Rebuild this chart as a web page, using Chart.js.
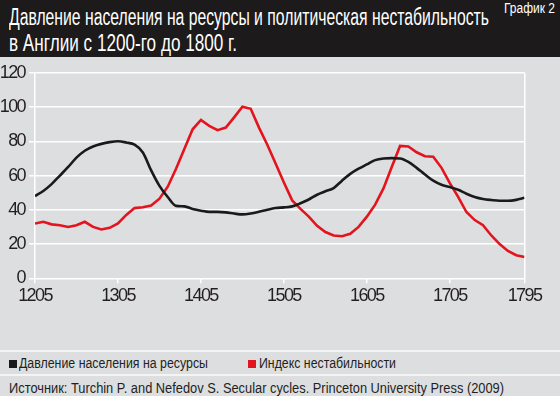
<!DOCTYPE html>
<html>
<head>
<meta charset="utf-8">
<script src="https://cdn.jsdelivr.net/npm/chart.js@4"></script>
<style>
  html, body { margin: 0; padding: 0; }
  body { width: 560px; height: 396px; background: #dddee0; position: relative; overflow: hidden;
         font-family: "Liberation Sans", Arial, sans-serif; color: #231f20; }
  #head { position: absolute; left: 0; top: 0; width: 560px; height: 57px; background: #1c1a1a; color: #fff; }
  .fit { position: absolute; white-space: nowrap; transform-origin: 0 0; }
  #t1 { left: 9px; top: 4px; font-size: 23px; line-height: 26px; }
  #t2 { left: 9px; top: 30px; font-size: 23px; line-height: 26px; }
  #num { left: 504px; top: 0px; font-size: 14px; line-height: 16px; }
  #wrap { position: absolute; left: 0; top: 58px; width: 560px; height: 292px; }
  .sep { position: absolute; left: 0; width: 560px; height: 1.5px; background: #f4f4f4; }
  .sw { position: absolute; width: 8px; height: 8px; top: 360px; }
  .leg { top: 355px; font-size: 14px; line-height: 16px; }
  #src { left: 9px; top: 380px; font-size: 14px; line-height: 16px; }
</style>
</head>
<body>
<div id="head">
  <div id="t1" class="fit" data-w="480">Давление населения на ресурсы и политическая нестабильность</div>
  <div id="t2" class="fit" data-w="228">в Англии с 1200-го до 1800 г.</div>
  <div id="num" class="fit" data-w="51">График 2</div>
</div>
<div id="wrap"><canvas id="chartHistory"></canvas></div>
<div class="sep" style="top:350px"></div>
<div class="sep" style="top:374px"></div>
<div class="sw" style="left:9px; background:#1a1a1a"></div>
<div class="fit leg" id="leg1" style="left:19px" data-w="189"></div>
<div class="sw" style="left:248px; background:#e4141e"></div>
<div class="fit leg" id="leg2" style="left:259px" data-w="137"></div>
<div id="src" class="fit" data-w="495">Источник: Turchin P. and Nefedov S. Secular cycles. Princeton University Press (2009)</div>

<script>
var years = [1205, 1215, 1225, 1235, 1245, 1255, 1265, 1275, 1285, 1295,
             1305, 1315, 1325, 1335, 1345, 1355, 1365, 1375, 1385, 1395,
             1405, 1415, 1425, 1435, 1445, 1455, 1465, 1475, 1485, 1495,
             1505, 1515, 1525, 1535, 1545, 1555, 1565, 1575, 1585, 1595,
             1605, 1615, 1625, 1635, 1645, 1655, 1665, 1675, 1685, 1695,
             1705, 1715, 1725, 1735, 1745, 1755, 1765, 1775, 1785, 1795];
var pressure = [48, 51, 55, 60, 65, 70.5, 74.5, 77, 78.5, 79.5,
                80, 79.3, 78, 73.5, 63, 54, 47.5, 42.3, 42, 40.5,
                39.5, 38.8, 38.8, 38.5, 37.8, 37.3, 37.8, 38.8, 40, 41,
                41.4, 42, 43.8, 46, 48.8, 50.8, 52.7, 57, 61, 64,
                66.5, 69, 70, 70.2, 70, 68, 64.5, 60.6, 57, 54.6,
                53.3, 51.7, 49.4, 47.5, 46.3, 45.7, 45.3, 45.3, 45.8, 47];
var instability = [32, 33, 31.5, 31, 30, 31, 33, 30, 28.5, 29.5,
                   32, 37, 41, 41.5, 42.5, 46.5, 53.5, 64, 75.5, 87,
                   92.5, 89, 86.5, 88, 94, 100.2, 99, 88, 78, 67,
                   56, 45.5, 40.5, 36, 30.6, 27, 25, 24.6, 26, 30,
                   36, 43, 52.5, 65, 77.3, 77, 73.6, 71.3, 71, 64.5,
                   55.6, 47.5, 38.7, 34, 31, 25, 20, 16, 13.5, 12.4];
var xTicks = [1205, 1305, 1405, 1505, 1605, 1705, 1795];
var seriesNames = ["Давление населения на ресурсы", "Индекс нестабильности"];

document.getElementById("leg1").textContent = seriesNames[0];
document.getElementById("leg2").textContent = seriesNames[1];

// squeeze the text to the narrow widths of the original layout
function fitText() {
    var els = document.querySelectorAll(".fit[data-w]");
    for (var i = 0; i < els.length; i++) {
        var w = els[i].getBoundingClientRect().width;
        var k = parseFloat(els[i].getAttribute("data-w")) / w;
        els[i].style.transform = "scaleX(" + k + ")";
    }
}
fitText();

var fontFam = '"Liberation Sans", Arial, sans-serif';

function toPoints(vals) {
    var pts = [];
    for (var i = 0; i < years.length; i++) {
        pts.push({ x: years[i], y: vals[i] });
    }
    return pts;
}

var narrowText = {
    id: "narrowText",
    beforeDraw: function (chart) { chart.ctx.letterSpacing = "-1.6px"; }
};

new Chart("chartHistory", {
    type: "line",
    data: {
        datasets: [
            {
                label: seriesNames[0],
                data: toPoints(pressure),
                borderColor: "#1a1a1a",
                borderWidth: 2.6,
                pointRadius: 0,
                cubicInterpolationMode: "monotone"
            },
            {
                label: seriesNames[1],
                data: toPoints(instability),
                borderColor: "#e4141e",
                borderWidth: 2.6,
                pointRadius: 0,
                tension: 0
            }
        ]
    },
    plugins: [narrowText],
    options: {
        responsive: true,
        maintainAspectRatio: false,
        animation: false,
        layout: { padding: { top: 13.7, right: 35.5, bottom: 0, left: 0 } },
        plugins: { legend: { display: false }, tooltip: { enabled: false } },
        scales: {
            x: {
                type: "linear",
                min: 1205,
                max: 1795,
                afterBuildTicks: function (scale) {
                    scale.ticks = xTicks.map(function (v) { return { value: v }; });
                },
                afterFit: function (scale) { scale.height = 71.7; },
                border: { display: false },
                grid: {
                    color: function (ctx) {
                        var v = ctx.tick ? ctx.tick.value : null;
                        return (v === 1205 || v === 1795) ? "#ffffff" : "rgba(0,0,0,0)";
                    },
                    tickColor: "#ffffff",
                    tickLength: 5,
                    lineWidth: 1.5
                },
                ticks: {
                    color: "#231f20",
                    font: { family: fontFam, size: 18 },
                    padding: 2,
                    maxRotation: 0,
                    callback: function (v) { return String(v); }
                }
            },
            y: {
                min: 0,
                max: 120,
                afterFit: function (scale) { scale.width = 35; },
                border: { display: false },
                grid: {
                    color: "#ffffff",
                    tickColor: "#ffffff",
                    tickLength: 6,
                    lineWidth: 1.5
                },
                ticks: {
                    stepSize: 20,
                    color: "#231f20",
                    font: { family: fontFam, size: 18 },
                    padding: 4
                }
            }
        }
    }
});
</script>
</body>
</html>
